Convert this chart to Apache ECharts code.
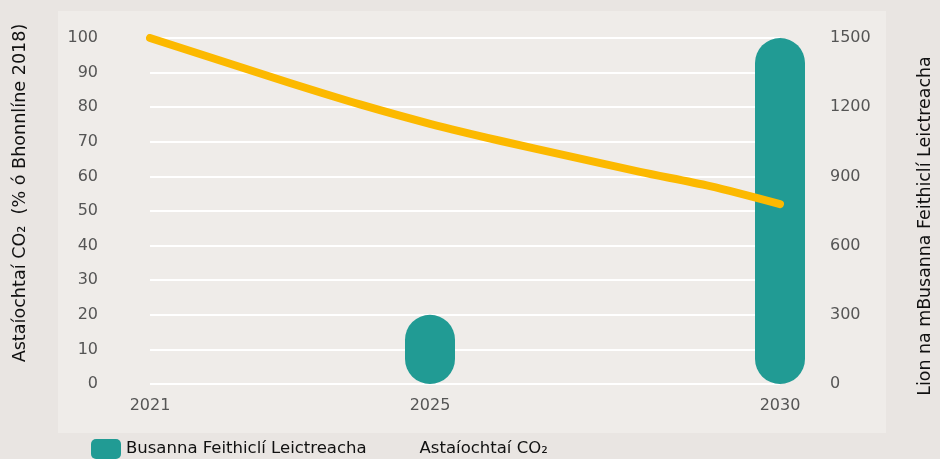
<!DOCTYPE html>
<html>
<head>
<meta charset="utf-8">
<script src="https://cdn.jsdelivr.net/npm/echarts@6/dist/echarts.min.js"></script>
<style>
html,body{margin:0;padding:0;background:#e9e5e2;}
#c{width:940px;height:459px;}
</style>
</head>
<body>
<div id="c"></div>
<script>
// Data
const years = [2021, 2022, 2023, 2024, 2025, 2026, 2027, 2028, 2029, 2030];
const co2Values = [100, 93.5, 87, 80.8, 75.2, 70.3, 65.8, 61.3, 57.2, 52];
const busYears = [2025, 2030];
const busValues = [300, 1500];
const xLabelYears = [2021, 2025, 2030];
const seriesNames = ['Busanna Feithiclí Leictreacha', 'Astaíochtaí CO₂'];
const leftAxisName = 'Astaíochtaí CO₂  (% ó Bhonnlíne 2018)';
const rightAxisName = 'Lion na mBusanna Feithiclí Leictreacha';

const FONT = 'DejaVu Sans';
const chart = echarts.init(document.getElementById('c'));
chart.setOption({
  backgroundColor: '#e9e5e2',
  animation: false,
  graphic: [
    {type: 'rect', z: -10, shape: {x: 58, y: 11, width: 828, height: 422}, style: {fill: '#efece9'}},
    {type: 'text', x: 20, y: 193, rotation: Math.PI / 2,
      style: {text: leftAxisName, align: 'center', verticalAlign: 'middle', fontSize: 17.6, fontFamily: FONT, fill: '#111'}},
    {type: 'text', x: 925, y: 226, rotation: Math.PI / 2,
      style: {text: rightAxisName, align: 'center', verticalAlign: 'middle', fontSize: 17.4, fontFamily: FONT, fill: '#111'}}
  ],
  legend: {
    left: 86, top: 434,
    itemWidth: 30, itemHeight: 20, itemGap: 18,
    textStyle: {fontSize: 16.5, fontFamily: FONT, color: '#111'},
    data: [
      {name: seriesNames[0], icon: 'roundRect'},
      {name: seriesNames[1], icon: 'none'}
    ]
  },
  grid: {left: 150, right: 160, top: 38, bottom: 75},
  xAxis: {
    type: 'value', min: 2021, max: 2030, interval: 1,
    axisLine: {show: false}, axisTick: {show: false}, splitLine: {show: false},
    axisLabel: {
      margin: 14, fontSize: 16, fontFamily: FONT, color: '#555',
      formatter: v => xLabelYears.indexOf(v) >= 0 ? String(v) : ''
    }
  },
  yAxis: [
    {
      type: 'value', min: 0, max: 100, interval: 10,
      axisLine: {show: false}, axisTick: {show: false},
      splitLine: {lineStyle: {color: '#ffffff', width: 2}},
      axisLabel: {margin: 52, fontSize: 16, fontFamily: FONT, color: '#555', formatter: v => String(v)}
    },
    {
      type: 'value', min: 0, max: 1500, interval: 300,
      axisLine: {show: false}, axisTick: {show: false}, splitLine: {show: false},
      axisLabel: {margin: 50, fontSize: 16, fontFamily: FONT, color: '#555', formatter: v => String(v)}
    }
  ],
  series: [
    {
      name: seriesNames[0], type: 'bar', yAxisIndex: 1, barWidth: 50, clip: false,
      itemStyle: {color: '#219b94', borderRadius: 25},
      data: busYears.map((y, i) => [y, busValues[i]])
    },
    {
      name: seriesNames[1], type: 'line', yAxisIndex: 0, smooth: 0.3, symbol: 'none',
      itemStyle: {color: '#fcb900'},
      lineStyle: {color: '#fcb900', width: 8, cap: 'round', join: 'round'},
      data: years.map((y, i) => [y, co2Values[i]])
    }
  ]
});
</script>
</body>
</html>
